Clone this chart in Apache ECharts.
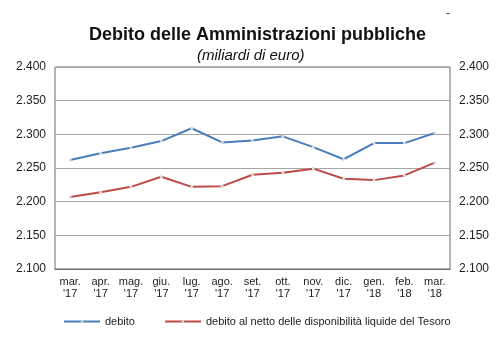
<!DOCTYPE html>
<html>
<head>
<meta charset="utf-8">
<script src="https://cdn.jsdelivr.net/npm/echarts@6/dist/echarts.min.js"></script>
<style>
  html, body { margin: 0; padding: 0; background: #fff; }
  #main { width: 504px; height: 354px; }
</style>
</head>
<body>
<div id="main"></div>
<script>
var mesi = ['mar.', 'apr.', 'mag.', 'giu.', 'lug.', 'ago.', 'set.', 'ott.', 'nov.', 'dic.', 'gen.', 'feb.', 'mar.'];
var anni = ["'17", "'17", "'17", "'17", "'17", "'17", "'17", "'17", "'17", "'17", "'18", "'18", "'18"];
var debito = [2262, 2272, 2280, 2290, 2309, 2288, 2291, 2297, 2281, 2263, 2287, 2287, 2302];
var debitoNetto = [2207, 2214, 2222, 2237, 2222, 2223, 2240, 2243, 2249, 2234, 2232, 2239, 2258];
var yMin = 2100, yMax = 2400, yStep = 50;

var categorie = mesi.map(function (m, i) { return m + '\n' + anni[i]; });

function fmtY(v) {
    // 2400 -> 2.400
    var s = String(v);
    return s.slice(0, s.length - 3) + '.' + s.slice(-3);
}

var myChart = echarts.init(document.getElementById('main'));
var font = 'Liberation Sans, Arial, sans-serif';
var yAxisBase = {
    type: 'value',
    min: yMin,
    max: yMax,
    interval: yStep,
    axisLine: { show: false },
    axisTick: { show: false },
    axisLabel: { formatter: fmtY, color: '#222', fontSize: 12, fontFamily: font, margin: 9 },
    splitLine: { lineStyle: { color: '#a6a6a6', width: 1 } }
};
option = {
    animation: false,
    title: [
        {
            text: 'Debito delle Amministrazioni pubbliche',
            left: 89,
            top: 26,
            padding: 0,
            textStyle: { fontSize: 18, fontWeight: 'bold', color: '#111', fontFamily: font }
        },
        {
            text: '(miliardi di euro)',
            left: 197,
            top: 48,
            padding: 0,
            textStyle: { fontSize: 15, fontStyle: 'italic', fontWeight: 'normal', color: '#111', fontFamily: font }
        }
    ],
    graphic: [
        { type: 'text', left: 446, top: 8, style: { text: '-', fill: '#333', font: '12px ' + font } }
    ],
    legend: {
        bottom: 27,
        left: 63,
        padding: 0,
        itemWidth: 36,
        itemHeight: 3,
        itemGap: 29,
        textStyle: { fontSize: 11, color: '#222', fontFamily: font },
        data: ['debito', 'debito al netto delle disponibilità liquide del Tesoro']
    },
    grid: {
        left: 55,
        right: 54,
        top: 67,
        bottom: 85,
        show: true,
        borderColor: '#6b6b6b',
        borderWidth: 1
    },
    xAxis: {
        type: 'category',
        boundaryGap: true,
        data: categorie,
        axisLine: { lineStyle: { color: '#6b6b6b' } },
        axisTick: { inside: true, length: 3, lineStyle: { color: '#6b6b6b' } },
        axisLabel: { color: '#222', fontSize: 11, fontFamily: font, lineHeight: 12, margin: 7, interval: 0 }
    },
    yAxis: [
        Object.assign({ position: 'left' }, yAxisBase),
        Object.assign({ position: 'right' }, yAxisBase, { splitLine: { show: false } })
    ],
    series: [
        {
            name: 'debito',
            type: 'line',
            data: debito,
            symbol: 'circle',
            symbolSize: 3,
            itemStyle: { color: '#d9d9d9' },
            lineStyle: { color: '#4a7ebb', width: 2 }
        },
        {
            name: 'debito al netto delle disponibilità liquide del Tesoro',
            type: 'line',
            data: debitoNetto,
            symbol: 'circle',
            symbolSize: 3,
            itemStyle: { color: '#d9d9d9' },
            lineStyle: { color: '#be4b48', width: 2 }
        }
    ]
};
myChart.setOption(option);
</script>
</body>
</html>
